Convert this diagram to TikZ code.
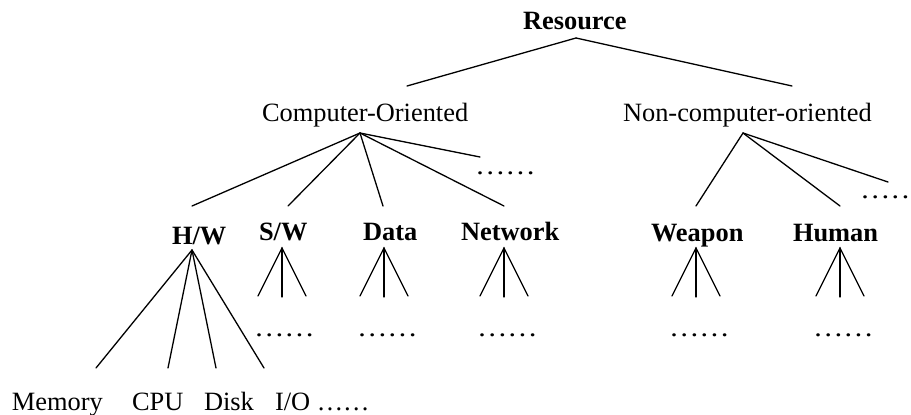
\documentclass[tikz,border=0pt]{standalone}
\usepackage{fontspec}
\setmainfont{Liberation Serif}
\begin{document}
\begin{tikzpicture}[x=1pt,y=-1pt,
  lbl/.style={anchor=base west,inner sep=0pt,outer sep=0pt,font=\fontsize{26.4}{30}\selectfont},
  blbl/.style={lbl,font=\fontsize{26.4}{30}\selectfont\bfseries},
  dts/.style={lbl},
  edge/.style={line width=1.3pt,line cap=round}]
\useasboundingbox (0,0) rectangle (911,415);
% labels
\node[blbl] (res) at (523,30) {Resource};
\node[lbl] (co) at (262,121) {Computer-Oriented};
\node[lbl] (nc) at (623,121) {Non-computer-oriented};
\node[dts] (codots) at (475,174) {\scalebox{1.15}[1]{……}};
\node[dts] (ncdots) at (860,198) {\scalebox{1.15}[1]{……}};
\node[blbl] (hw) at (172,244) {H/W};
\node[blbl] (sw) at (259,240) {S/W};
\node[blbl] (data) at (363,240) {Data};
\node[blbl] (net) at (461,240) {Network};
\node[blbl] (weap) at (651,241) {Weapon};
\node[blbl] (hum) at (793,241) {Human};
\node[dts] (swdots) at (254,336) {\scalebox{1.15}[1]{……}};
\node[dts] (datadots) at (357,336) {\scalebox{1.15}[1]{……}};
\node[dts] (netdots) at (477,336) {\scalebox{1.15}[1]{……}};
\node[dts] (weapdots) at (669,336) {\scalebox{1.15}[1]{……}};
\node[dts] (humdots) at (813,336) {\scalebox{1.15}[1]{……}};
\node[lbl] (mem) at (12,410) {Memory};
\node[lbl] (cpu) at (132,410) {CPU};
\node[lbl] (disk) at (204,410) {Disk};
\node[lbl] (io) at (275,410) {I/O ……};
% attachment points
\coordinate (resA) at (576,38);
\coordinate (coT) at (407,86);
\coordinate (ncT) at (792,86);
\coordinate (coA) at (360,133);
\coordinate (ncA) at (743,133);
\coordinate (hwT) at (192,206);
\coordinate (swT) at (288,206);
\coordinate (dataT) at (383,206);
\coordinate (netT) at (504,206);
\coordinate (codT) at (480,157);
\coordinate (weapT) at (696,206);
\coordinate (humT) at (840,206);
\coordinate (ncdT) at (888,182);
\coordinate (hwA) at (192,250);
\coordinate (memT) at (96,368);
\coordinate (cpuT) at (168,368);
\coordinate (diskT) at (216,368);
\coordinate (ioT) at (264,368);
% edges
\draw[edge] (resA) -- (coT);
\draw[edge] (resA) -- (ncT);
\foreach \t in {hwT,swT,dataT,netT,codT} \draw[edge] (coA) -- (\t);
\foreach \t in {weapT,humT,ncdT} \draw[edge] (ncA) -- (\t);
\foreach \t in {memT,cpuT,diskT,ioT} \draw[edge] (hwA) -- (\t);
% small fans
\foreach \n/\x in {sw/282,data/384,net/504,weap/696,hum/840}{
  \coordinate (\n A) at (\x,248);
  \coordinate (\n L) at (\x-24,296);
  \coordinate (\n M) at (\x,297);
  \coordinate (\n R) at (\x+24,296);
  \draw[edge] (\n L) -- (\n A) -- (\n R);
  \draw[edge] (\n A) -- (\n M);
}
\end{tikzpicture}
\end{document}
